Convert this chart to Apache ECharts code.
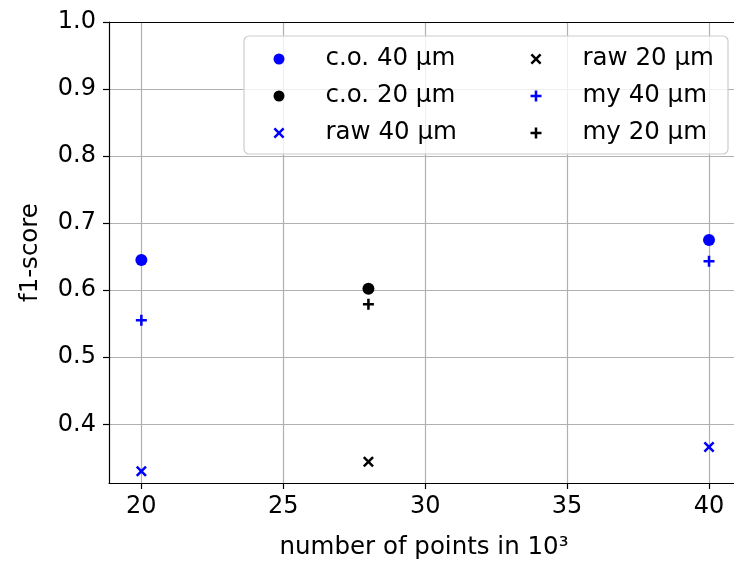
<!DOCTYPE html>
<html>
<head>
<meta charset="utf-8">
<script src="https://cdn.jsdelivr.net/npm/echarts@6/dist/echarts.min.js"></script>
<style>html,body{margin:0;padding:0;background:#fff}#c{width:734px;height:565px}</style>
</head>
<body>
<div id="c"></div>
<script>
// data
const pts40 = [20, 40];
const pts20 = [28];
const co40 = [0.645, 0.675];
const co20 = [0.602];
const raw40 = [0.330, 0.366];
const raw20 = [0.344];
const my40 = [0.555, 0.643];
const my20 = [0.579];
const seriesNames = ['c.o. 40 µm', 'c.o. 20 µm', 'raw 40 µm', 'raw 20 µm', 'my 40 µm', 'my 20 µm'];
const xTitle = 'number of points in 10³';
const yTitle = 'f1-score';

const FONT = 'DejaVu Sans';
const BLUE = '#0000ff', BLACK = '#000000';
const plusPath = 'path://M-0.23,-1H0.23V-0.23H1V0.23H0.23V1H-0.23V0.23H-1V-0.23H-0.23Z';
const xPath = 'path://M-1,-0.68L-0.68,-1L0,-0.32L0.68,-1L1,-0.68L0.32,0L1,0.68L0.68,1L0,0.32L-0.68,1L-1,0.68L-0.32,0Z';

function zip(xs, ys) { return xs.map((x, i) => [x, ys[i]]); }
function mk(name, xs, ys, symbol, size, color) {
  return { name, type: 'scatter', data: zip(xs, ys), symbol, symbolSize: size,
    itemStyle: { color, opacity: 1 }, emphasis: { disabled: true }, animation: false };
}

const legendText = { fontFamily: FONT, fontSize: 24.5, color: '#000', lineHeight: 26, padding: [0, 0, 0, 36] };
const axisLineStyle = { color: '#000', width: 1.2 };

const chart = echarts.init(document.getElementById('c'), null, { renderer: 'canvas' });
chart.setOption({
  animation: false,
  backgroundColor: '#fff',
  textStyle: { fontFamily: FONT },
  grid: { left: 109, top: 22, right: 0, bottom: 82, show: false },
  xAxis: [{
    type: 'value', min: 18.86, max: 40.88,
    name: xTitle, nameLocation: 'middle', nameGap: 52,
    nameTextStyle: { fontFamily: FONT, fontSize: 24.5, color: '#000', padding: [0, 0, 0, 5] },
    axisLine: { show: true, onZero: false, lineStyle: axisLineStyle },
    axisTick: { show: true, inside: false, length: 6, lineStyle: axisLineStyle },
    axisLabel: { fontFamily: FONT, fontSize: 24, color: '#000', margin: 12, showMinLabel: false, showMaxLabel: false },
    splitLine: { show: true, showMinLine: false, showMaxLine: false, lineStyle: { color: '#b0b0b0', width: 1.2 } }
  }, {
    type: 'value', position: 'top', min: 18.86, max: 40.88,
    axisLine: { show: true, onZero: false, lineStyle: axisLineStyle },
    axisTick: { show: false }, axisLabel: { show: false }, splitLine: { show: false }
  }],
  yAxis: {
    type: 'value', min: 0.3124, max: 1.0,
    name: yTitle, nameLocation: 'middle', nameGap: 66, nameRotate: 90,
    nameTextStyle: { fontFamily: FONT, fontSize: 24.5, color: '#000' },
    axisLine: { show: true, onZero: false, lineStyle: axisLineStyle },
    axisTick: { show: true, inside: false, length: 6, lineStyle: axisLineStyle },
    axisLabel: { fontFamily: FONT, fontSize: 24, color: '#000', margin: 13, showMinLabel: false,
      formatter: v => v.toFixed(1) },
    splitLine: { show: true, showMinLine: false, lineStyle: { color: '#b0b0b0', width: 1.2 } }
  },
  graphic: [{
    type: 'rect', z: 3, shape: { x: 244, y: 36, width: 484, height: 118, r: 5 },
    style: { fill: 'rgba(255,255,255,0.8)', stroke: '#cccccc', lineWidth: 1.2 }
  }],
  legend: [
    { data: seriesNames.slice(0, 3), orient: 'vertical', left: 273.5, top: 46, itemGap: 11, padding: 0,
      itemWidth: 11, itemHeight: 11, textStyle: legendText, selectedMode: false, z: 5 },
    { data: seriesNames.slice(3, 6), orient: 'vertical', left: 530.5, top: 46, itemGap: 11, padding: 0,
      itemWidth: 11, itemHeight: 11, textStyle: legendText, selectedMode: false, z: 5 }
  ],
  series: [
    mk(seriesNames[0], pts40, co40, 'circle', 12, BLUE),
    mk(seriesNames[1], pts20, co20, 'circle', 12, BLACK),
    mk(seriesNames[2], pts40, raw40, xPath, 11, BLUE),
    mk(seriesNames[3], pts20, raw20, xPath, 11, BLACK),
    mk(seriesNames[4], pts40, my40, plusPath, 11, BLUE),
    mk(seriesNames[5], pts20, my20, plusPath, 11, BLACK)
  ]
});
</script>
</body>
</html>
